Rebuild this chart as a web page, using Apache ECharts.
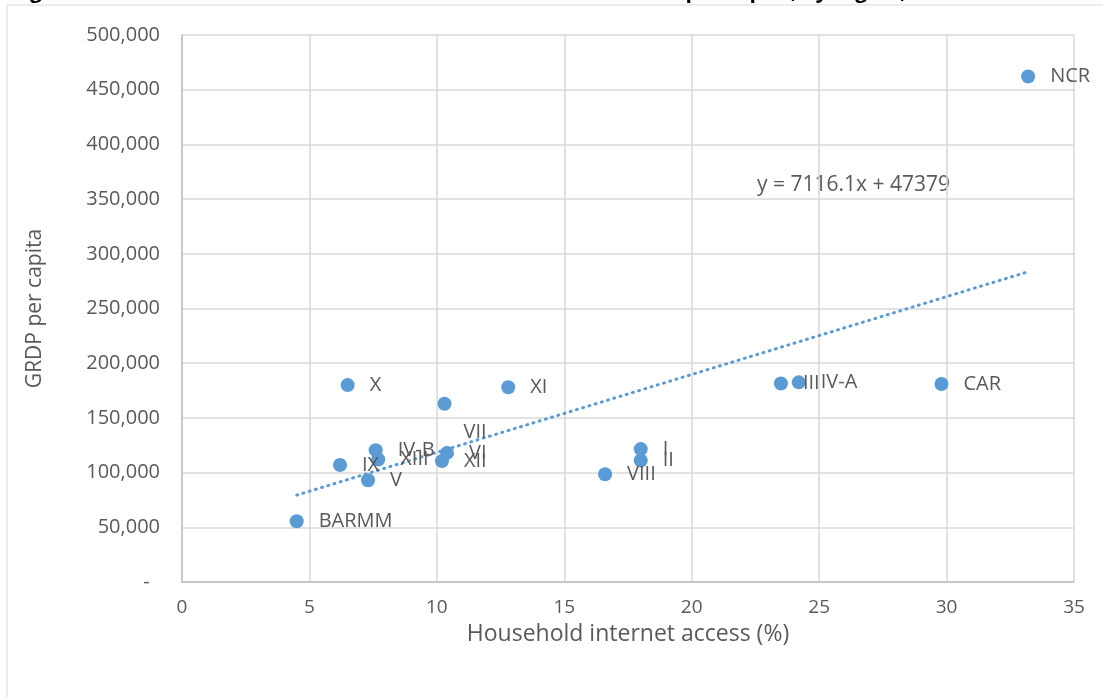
<!DOCTYPE html>
<html>
<head>
<meta charset="utf-8">
<script src="https://cdn.jsdelivr.net/npm/echarts@6/dist/echarts.min.js"></script>
<style>
html, body { margin: 0; padding: 0; background: #fff; }
#chart { width: 1103px; height: 697px; }
</style>
</head>
<body>
<div id="chart"></div>
<script>
// regions and their values
const regions = ['NCR', 'CAR', 'III', 'IV-A', 'I', 'II', 'VIII', 'XI', 'VII', 'X', 'VI', 'XII', 'IV-B', 'XIII', 'IX', 'V', 'BARMM'];
const internetAccess = [33.2, 29.8, 23.5, 24.2, 18.0, 18.0, 16.6, 12.8, 10.3, 6.5, 10.4, 10.2, 7.6, 7.7, 6.2, 7.3, 4.5];
const grdpPerCapita = [462000, 181000, 181500, 182500, 121500, 111000, 98500, 178000, 163000, 180000, 118000, 110500, 120500, 112000, 107000, 93000, 55500];
// linear trend line end points
const trendX = [4.5, 33.2];
const trendY = [79400, 283600];
const trendText = 'y = 7116.1x + 47379';

const blue = '#5b9bd5';
const textColor = '#595959';
const font = '"Open Sans", sans-serif';

// label tweaks for crowded points
const labelTweaks = {
    'VII': { position: [26, 26] },
    'I': { offset: [0, -6] }
};

const points = regions.map((name, i) => {
    const item = { name: name, value: [internetAccess[i], grdpPerCapita[i]] };
    if (labelTweaks[name]) item.label = labelTweaks[name];
    return item;
});

const chart = echarts.init(document.getElementById('chart'));
const option = {
    animation: false,
    textStyle: { fontFamily: font },
    graphic: [
        {
            type: 'rect',
            shape: { x: 7, y: 5, width: 1120, height: 720 },
            style: { fill: 'none', stroke: '#d9d9d9', lineWidth: 1 },
            silent: true
        },
        {
            type: 'text',
            left: 12,
            top: -18,
            style: {
                text: 'Figure 5. Relation between household internet access and GRDP per capita, by region, 2018',
                fill: '#000',
                font: 'bold 21px "Open Sans", sans-serif'
            }
        },
        {
            type: 'text',
            left: 757,
            top: 175,
            style: { text: trendText, fill: textColor, font: '21px "Open Sans", sans-serif' }
        }
    ],
    grid: { left: 182, right: 29, top: 35, bottom: 115 },
    xAxis: {
        type: 'value',
        min: 0,
        max: 35,
        interval: 5,
        name: 'Household internet access (%)',
        nameLocation: 'middle',
        nameGap: 41,
        nameMoveOverlap: false,
        nameTextStyle: { color: textColor, fontSize: 23, fontFamily: font },
        axisLine: { show: true, lineStyle: { color: '#bfbfbf', width: 1.5 } },
        axisTick: { show: false },
        axisLabel: { color: textColor, fontSize: 19, margin: 16, fontFamily: font },
        splitLine: { show: true, lineStyle: { color: '#d9d9d9', width: 1.5 } }
    },
    yAxis: {
        type: 'value',
        min: 0,
        max: 500000,
        interval: 50000,
        name: 'GRDP per capita',
        nameLocation: 'middle',
        nameGap: 136,
        nameTextStyle: { color: textColor, fontSize: 21, fontFamily: font },
        axisLine: { show: true, lineStyle: { color: '#bfbfbf', width: 1.5 } },
        axisTick: { show: false },
        axisLabel: {
            color: textColor,
            fontSize: 20,
            margin: 22,
            fontFamily: font,
            formatter: v => v === 0 ? '-  ' : v.toLocaleString('en-US')
        },
        splitLine: { show: true, lineStyle: { color: '#d9d9d9', width: 1.5 } }
    },
    series: [
        {
            type: 'line',
            data: trendX.map((x, i) => [x, trendY[i]]),
            symbol: 'none',
            lineStyle: { color: blue, width: 3, type: [1, 5.5], cap: 'round' },
            silent: true,
            z: 1
        },
        {
            type: 'scatter',
            data: points,
            symbolSize: 14,
            itemStyle: { color: blue, opacity: 1 },
            label: {
                show: true,
                position: 'right',
                distance: 15,
                formatter: p => p.name,
                color: textColor,
                fontSize: 20,
                fontFamily: font
            },
            labelLayout: { hideOverlap: false },
            z: 2
        }
    ]
};
chart.setOption(option);
</script>
</body>
</html>
